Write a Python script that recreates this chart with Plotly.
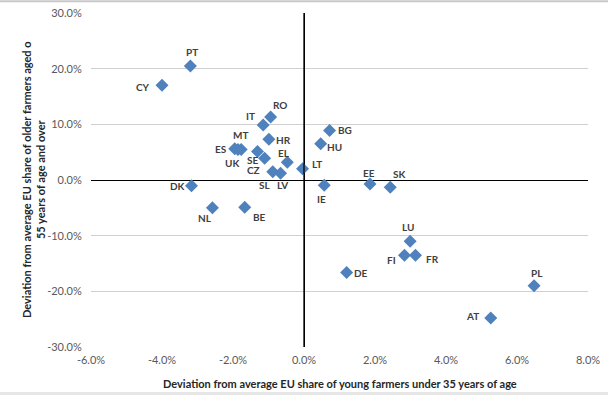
import plotly.graph_objects as go

countries = ["PT", "CY", "RO", "IT", "BG", "HU", "HR", "ES", "UK", "MT", "SE", "CZ",
             "SL", "LV", "EL", "LT", "DK", "NL", "BE", "IE", "EE", "SK", "LU", "FI",
             "FR", "DE", "PL", "AT"]
young_dev = [-3.2, -4.0, -0.94, -1.15, 0.72, 0.47, -0.99, -1.95, -1.86, -1.77, -1.31, -1.11,
             -0.88, -0.66, -0.47, -0.04, -3.17, -2.58, -1.67, 0.57, 1.86, 2.43, 2.99, 2.83,
             3.14, 1.2, 6.48, 5.26]
old_dev = [20.5, 17.0, 11.3, 9.9, 8.9, 6.5, 7.3, 5.6, 5.5, 5.5, 5.1, 3.9,
           1.5, 1.2, 3.2, 2.0, -1.05, -5.0, -4.9, -0.95, -0.7, -1.3, -11.0, -13.5,
           -13.5, -16.6, -19.0, -24.8]

x_ticks = [-6, -4, -2, 0, 2, 4, 6, 8]
y_ticks = [-30, -20, -10, 0, 10, 20, 30]

# label offsets (pixels, dx right, dy down)
label_offsets = {
    "PT": (2, -14), "CY": (-19, 2), "RO": (9, -12), "IT": (-13, -9), "BG": (15, 0),
    "HU": (14, 3), "HR": (15, 1), "ES": (-14, 0), "MT": (-1, -14), "UK": (-6, 14),
    "SE": (-5, 8), "CZ": (-11, 12), "SL": (-8, 13), "LV": (2, 12), "EL": (-3, -9),
    "LT": (14, -5), "DK": (-14, 0), "NL": (-7, 10), "BE": (15, 10), "IE": (-3, 14),
    "EE": (-1, -11), "SK": (9, -13), "LU": (-2, -14), "FI": (-13, 5), "FR": (17, 4),
    "DE": (14, 1), "PL": (3, -13), "AT": (-18, -2),
}

FONT = "Lato, 'Open Sans', Arial, sans-serif"

fig = go.Figure()
fig.add_trace(go.Scatter(
    x=young_dev, y=old_dev, mode="markers",
    marker=dict(symbol="diamond", size=10, color="#4F81BD",
                line=dict(width=0)),
    hovertext=countries, showlegend=False,
))

for c, xv, yv in zip(countries, young_dev, old_dev):
    dx, dy = label_offsets[c]
    fig.add_annotation(x=xv, y=yv, text="<b>%s</b>" % c, showarrow=False,
                       xshift=dx, yshift=-dy,
                       font=dict(family=FONT, size=10, color="#404040"))

# y-axis title (two lines)
fig.add_annotation(xref="paper", yref="paper", x=0, y=0.5, xshift=-58,
                   xanchor="center", yanchor="middle",
                   text="<b>Deviation from average EU share of older farmers aged o<br>55 years of age and over</b>",
                   textangle=-90, showarrow=False,
                   font=dict(family=FONT, size=11, color="#262626"))

# x-axis title
fig.add_annotation(xref="paper", yref="paper", x=0.5, y=0, yshift=-36,
                   xanchor="center", yanchor="middle",
                   text="<b>Deviation from average EU share of young farmers under 35 years of age</b>",
                   showarrow=False,
                   font=dict(family=FONT, size=11, color="#262626"))

fig.update_xaxes(
    range=[-6, 8], tickvals=x_ticks,
    ticktext=["%.1f%%" % v for v in x_ticks],
    showgrid=False, zeroline=True, zerolinecolor="#000000", zerolinewidth=1.3,
    showline=False, ticks="outside", ticklen=3, tickcolor="white",
    automargin=False,
    tickfont=dict(family=FONT, size=11, color="#595959"),
)
fig.update_yaxes(
    range=[-30, 30], tickvals=y_ticks,
    ticktext=["%.1f%%" % v for v in y_ticks],
    showgrid=True, gridcolor="#D0D0D0", gridwidth=1,
    zeroline=True, zerolinecolor="#000000", zerolinewidth=1.3,
    showline=False, ticks="outside", ticklen=6, tickcolor="white",
    automargin=False,
    tickfont=dict(family=FONT, size=11, color="#595959"),
)

# vertical axis line at x=0 drawn through full height
fig.add_shape(type="line", xref="x", yref="paper", x0=0, x1=0, y0=0, y1=1,
              line=dict(color="#000000", width=1.3))

# window frame lines
fig.add_shape(type="line", xref="paper", yref="paper", x0=-0.2, x1=1.1, y0=1.035, y1=1.035,
              line=dict(color="#C8C8C8", width=2))
fig.add_shape(type="rect", xref="paper", yref="paper", x0=-0.2, x1=1.1, y0=-0.135, y1=-0.16,
              line=dict(width=0), fillcolor="#E6E6E6")

fig.update_layout(
    width=608, height=395,
    margin=dict(l=91, r=20, t=13, b=48, autoexpand=False),
    plot_bgcolor="white", paper_bgcolor="white",
    font=dict(family=FONT),
)

fig.write_html("out.html",
               config={"displayModeBar": False},
               post_script="document.body.style.margin='0';document.body.style.overflow='hidden';")
